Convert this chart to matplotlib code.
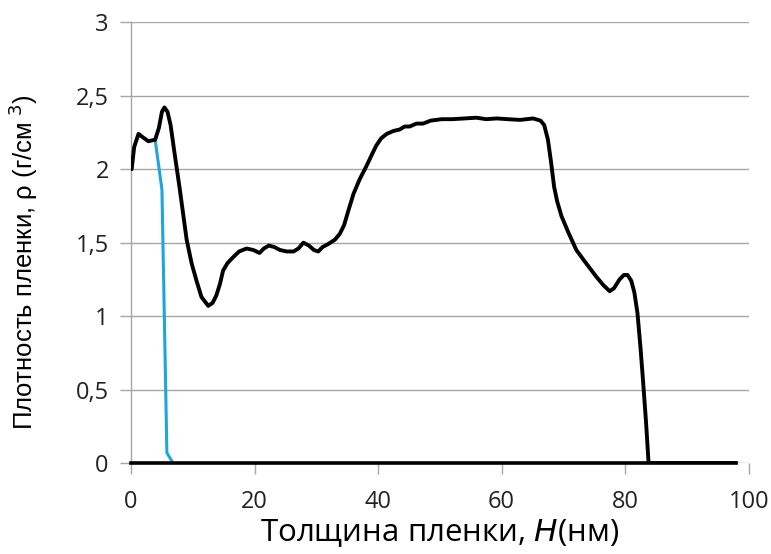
import matplotlib
matplotlib.use("Agg")
import matplotlib.pyplot as plt

# профиль плотности пленки (черная кривая)
h_film = [0.1, 0.5, 1.2, 1.8, 2.8, 3.9, 4.5, 5.0, 5.4, 5.9, 6.4, 7.0, 7.9, 9.0,
          9.8, 10.6, 11.4, 12.5, 13.2, 13.8, 14.4, 14.9, 15.6, 16.5, 17.5, 18.7,
          19.8, 20.8, 21.5, 22.3, 23.2, 24.1, 25.2, 26.3, 27.1, 27.9, 28.8, 29.6,
          30.3, 31.0, 31.9, 33.0, 33.8, 34.5, 35.2, 36.0, 37.0, 38.1, 39.0, 39.7,
          40.5, 41.4, 42.5, 43.5, 44.3, 45.1, 46.2, 47.3, 48.5, 50.3, 52.0, 54.0,
          55.9, 57.5, 59.2, 61.0, 63.0, 65.1, 66.3, 66.9, 67.5, 68.0, 68.5, 69.0,
          69.7, 70.8, 72.1, 73.5, 75.3, 76.5, 77.5, 78.2, 79.1, 79.8, 80.4, 81.0,
          81.5, 82.0, 82.5, 82.9, 83.4, 83.8, 98.0]
rho_film = [2.00, 2.15, 2.24, 2.22, 2.19, 2.20, 2.28, 2.39, 2.42, 2.39, 2.30, 2.12,
            1.86, 1.52, 1.36, 1.24, 1.13, 1.07, 1.09, 1.14, 1.22, 1.31, 1.36, 1.40,
            1.44, 1.46, 1.45, 1.43, 1.46, 1.48, 1.47, 1.45, 1.44, 1.44, 1.46, 1.50,
            1.48, 1.45, 1.44, 1.47, 1.49, 1.52, 1.56, 1.62, 1.72, 1.83, 1.93, 2.02,
            2.10, 2.16, 2.21, 2.24, 2.26, 2.27, 2.29, 2.29, 2.31, 2.31, 2.33, 2.34,
            2.34, 2.345, 2.35, 2.34, 2.345, 2.34, 2.335, 2.345, 2.33, 2.30, 2.20,
            2.05, 1.88, 1.78, 1.68, 1.57, 1.45, 1.37, 1.27, 1.21, 1.17, 1.19, 1.25,
            1.28, 1.28, 1.24, 1.16, 1.02, 0.78, 0.56, 0.27, 0.0, 0.0]

# подложка (голубая кривая)
h_sub = [3.9, 5.0, 5.8, 6.8]
rho_sub = [2.20, 1.86, 0.07, 0.0]

x_ticks = [0, 20, 40, 60, 80, 100]
y_ticks = [0, 0.5, 1, 1.5, 2, 2.5, 3]
y_labels = ["0", "0,5", "1", "1,5", "2", "2,5", "3"]

fig = plt.figure(figsize=(7.71, 5.54), dpi=100)
ax = fig.add_axes([0.170, 0.164, 0.801, 0.796])

ax.set_xlim(0, 100)
ax.set_ylim(0, 3)

for y in y_ticks:
    ax.axhline(y, color="#a6a6a6", lw=1.0, zorder=1)

ax.plot(h_sub, rho_sub, color="#1ea6dc", lw=2.2, zorder=3)
ax.plot(h_film, rho_film, color="black", lw=2.8, zorder=4,
        solid_joinstyle="round", solid_capstyle="round")

for s in ["top", "right"]:
    ax.spines[s].set_visible(False)
ax.spines["left"].set_color("#a6a6a6")
ax.spines["left"].set_linewidth(1.0)
ax.spines["bottom"].set_color("black")
ax.spines["bottom"].set_linewidth(2.6)
ax.spines["bottom"].set_bounds(0, 98)
ax.spines["bottom"].set_zorder(5)

ax.set_xticks(x_ticks)
ax.set_yticks(y_ticks)
ax.set_yticklabels(y_labels)
ax.tick_params(axis="both", colors="#a6a6a6", length=8, width=1.0,
               labelcolor="#222222", labelsize=17)
ax.tick_params(axis="x", pad=11)
ax.tick_params(axis="y", pad=8)
for lab in ax.get_xticklabels() + ax.get_yticklabels():
    lab.set_family("Open Sans")

ax.set_xlabel("Толщина пленки, $\\mathit{H}$(нм)", family="Open Sans",
              fontsize=22.5, labelpad=3)
ax.set_ylabel("Плотность пленки, ρ (г/см$^{\\ 3}$)", family="Liberation Sans",
              fontsize=18.5)
ax.yaxis.set_label_coords(-0.148, 0.455)

fig.savefig("out.png", dpi=100, facecolor="white")
